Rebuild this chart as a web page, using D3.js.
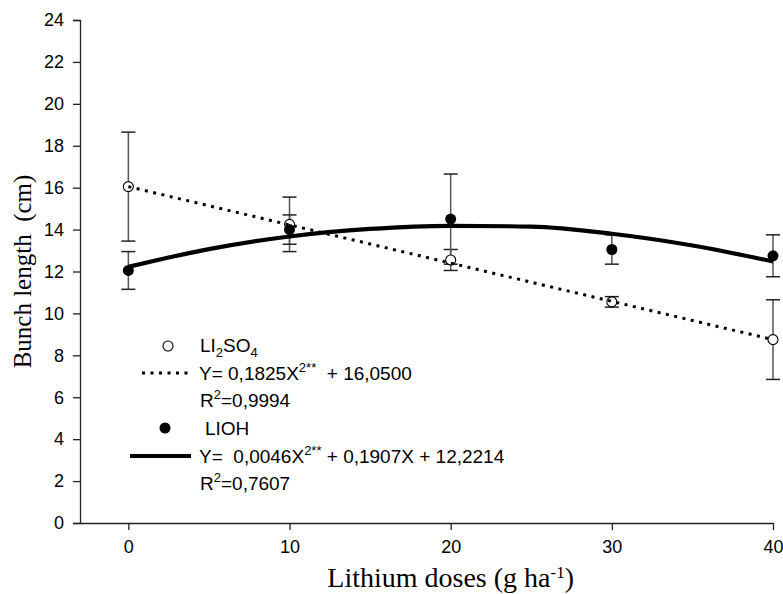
<!DOCTYPE html>
<meta charset="utf-8">
<style>

body {
  background: #fff;
  margin: 0;
}

.tick text {
  font-family: Arial, "Liberation Sans", sans-serif;
  font-size: 18px;
  fill: #000;
}

.legend-text {
  font-family: Arial, "Liberation Sans", sans-serif;
  font-size: 19px;
  fill: #000;
}

.axis-title {
  font-family: "Times New Roman", "Liberation Serif", serif;
  fill: #000;
}

</style>
<script src="https://d3js.org/d3.v7.min.js"></script>
<body></body>
<script>

var doses = [0, 10, 20, 30, 40];
var li2so4Mean = [16.05, 14.25, 12.55, 10.55, 8.75];
var li2so4Err = [2.6, 1.3, 0.5, 0.25, 1.9];
var liohMean = [12.05, 14.0, 14.5, 13.05, 12.75];
var liohErr = [0.9, 0.7, 2.15, 0.7, 1.0];

// fitted lines
var li2so4FitX = [0, 40];
var li2so4FitY = [16.05, 8.75];
var liohFitX = [0, 5, 10, 15, 20, 25, 30, 35, 40];
var liohFitY = [12.22, 13.07, 13.67, 14.03, 14.18, 14.14, 13.8, 13.24, 12.48];

var xTicks = [0, 10, 20, 30, 40];
var yTicks = [0, 2, 4, 6, 8, 10, 12, 14, 16, 18, 20, 22, 24];

var width = 783;
var height = 594;

var svg = d3.select('body').append('svg')
	.attr('width', width)
	.attr('height', height);

var x = d3.scaleLinear().domain([-3, 40]).range([80, 773]);
var y = d3.scaleLinear().domain([0, 24]).range([523, 20]);

//Axes
svg.append('g')
	.attr('transform', 'translate(' + x.range()[0] + ',0)')
	.call(d3.axisLeft(y).tickValues(yTicks).tickSize(7).tickPadding(9));

svg.append('g')
	.attr('transform', 'translate(0,' + y(0) + ')')
	.call(d3.axisBottom(x).tickValues(xTicks).tickSize(7).tickPadding(10).tickSizeOuter(0));

svg.selectAll('.domain, .tick line')
	.attr('stroke', '#222')
	.attr('stroke-width', 1.3);

svg.append('text')
	.attr('class', 'axis-title')
	.attr('transform', 'translate(31,' + ((y.range()[0] + y.range()[1]) / 2) + ') rotate(-90)')
	.attr('text-anchor', 'middle')
	.attr('xml:space', 'preserve')
	.style('font-size', '25px')
	.text('Bunch length  (cm)');

var xTitle = svg.append('text')
	.attr('class', 'axis-title')
	.attr('x', (x(0) + x(40)) / 2)
	.attr('y', 587)
	.attr('text-anchor', 'middle')
	.style('font-size', '28px');
xTitle.append('tspan').text('Lithium doses (g ha');
xTitle.append('tspan').attr('dy', -9).style('font-size', '17px').text('-1');
xTitle.append('tspan').attr('dy', 9).text(')');

//Error bars
function drawErrors( means, errs ) {
	var g = svg.append('g').attr('stroke', '#555').attr('stroke-width', 1.5);
	doses.forEach(( d, i ) => {
		var top = y(means[i] + errs[i]);
		var bot = y(means[i] - errs[i]);
		g.append('line').attr('x1', x(d)).attr('x2', x(d)).attr('y1', top).attr('y2', bot);
		g.append('line').attr('x1', x(d) - 7).attr('x2', x(d) + 7).attr('y1', top).attr('y2', top).attr('stroke', '#222');
		g.append('line').attr('x1', x(d) - 7).attr('x2', x(d) + 7).attr('y1', bot).attr('y2', bot).attr('stroke', '#222');
	});
}
drawErrors(li2so4Mean, li2so4Err);
drawErrors(liohMean, liohErr);

//Points
svg.selectAll('.open-pt')
	.data(doses)
	.enter().append('circle')
	.attr('class', 'open-pt')
	.attr('cx', ( d ) => x(d))
	.attr('cy', ( d, i ) => y(li2so4Mean[i]))
	.attr('r', 5)
	.attr('fill', '#fff')
	.attr('stroke', '#000')
	.attr('stroke-width', 1.1);

svg.selectAll('.full-pt')
	.data(doses)
	.enter().append('circle')
	.attr('class', 'full-pt')
	.attr('cx', ( d ) => x(d))
	.attr('cy', ( d, i ) => y(liohMean[i]))
	.attr('r', 5.5)
	.attr('fill', '#000');

//Fits
var line = d3.line()
	.x(( d ) => x(d[0]))
	.y(( d ) => y(d[1]))
	.curve(d3.curveMonotoneX);

svg.append('path')
	.datum(li2so4FitX.map(( d, i ) => [d, li2so4FitY[i]]))
	.attr('d', line)
	.attr('fill', 'none')
	.attr('stroke', '#000')
	.attr('stroke-width', 3)
	.attr('stroke-dasharray', '3,5.5');

svg.append('path')
	.datum(liohFitX.map(( d, i ) => [d, liohFitY[i]]))
	.attr('d', line)
	.attr('fill', 'none')
	.attr('stroke', '#000')
	.attr('stroke-width', 4.2);

//Legend
var lg = svg.append('g');
var rowY = [346, 373, 400, 428, 456, 483];

lg.append('circle').attr('cx', 168).attr('cy', rowY[0]).attr('r', 5)
	.attr('fill', '#fff').attr('stroke', '#000').attr('stroke-width', 1.1);
var t0 = lg.append('text').attr('class', 'legend-text').attr('x', 200).attr('y', rowY[0] + 6);
t0.append('tspan').text('LI');
t0.append('tspan').attr('dy', 5).style('font-size', '13px').text('2');
t0.append('tspan').attr('dy', -5).text('SO');
t0.append('tspan').attr('dy', 5).style('font-size', '13px').text('4');

lg.append('line').attr('x1', 142).attr('x2', 189).attr('y1', rowY[1]).attr('y2', rowY[1])
	.attr('stroke', '#000').attr('stroke-width', 3).attr('stroke-dasharray', '3,5.5');
var t1 = lg.append('text').attr('class', 'legend-text').attr('x', 199).attr('y', rowY[1] + 7).attr('xml:space', 'preserve');
t1.append('tspan').text('Y= 0,1825X');
t1.append('tspan').attr('dy', -8).style('font-size', '13px').text('2**');
t1.append('tspan').attr('dy', 8).text('  + 16,0500');

var t2 = lg.append('text').attr('class', 'legend-text').attr('x', 200).attr('y', rowY[2] + 7);
t2.append('tspan').text('R');
t2.append('tspan').attr('dy', -8).style('font-size', '13px').text('2');
t2.append('tspan').attr('dy', 8).text('=0,9994');

lg.append('circle').attr('cx', 165).attr('cy', rowY[3]).attr('r', 5.5).attr('fill', '#000');
lg.append('text').attr('class', 'legend-text').attr('x', 205).attr('y', rowY[3] + 7).text('LIOH');

lg.append('line').attr('x1', 130).attr('x2', 191).attr('y1', rowY[4]).attr('y2', rowY[4])
	.attr('stroke', '#000').attr('stroke-width', 4.2);
var t4 = lg.append('text').attr('class', 'legend-text').attr('x', 199).attr('y', rowY[4] + 7).attr('xml:space', 'preserve');
t4.append('tspan').text('Y=  0,0046X');
t4.append('tspan').attr('dy', -8).style('font-size', '13px').text('2**');
t4.append('tspan').attr('dy', 8).text(' + 0,1907X + 12,2214');

var t5 = lg.append('text').attr('class', 'legend-text').attr('x', 200).attr('y', rowY[5] + 7);
t5.append('tspan').text('R');
t5.append('tspan').attr('dy', -8).style('font-size', '13px').text('2');
t5.append('tspan').attr('dy', 8).text('=0,7607');

</script>
